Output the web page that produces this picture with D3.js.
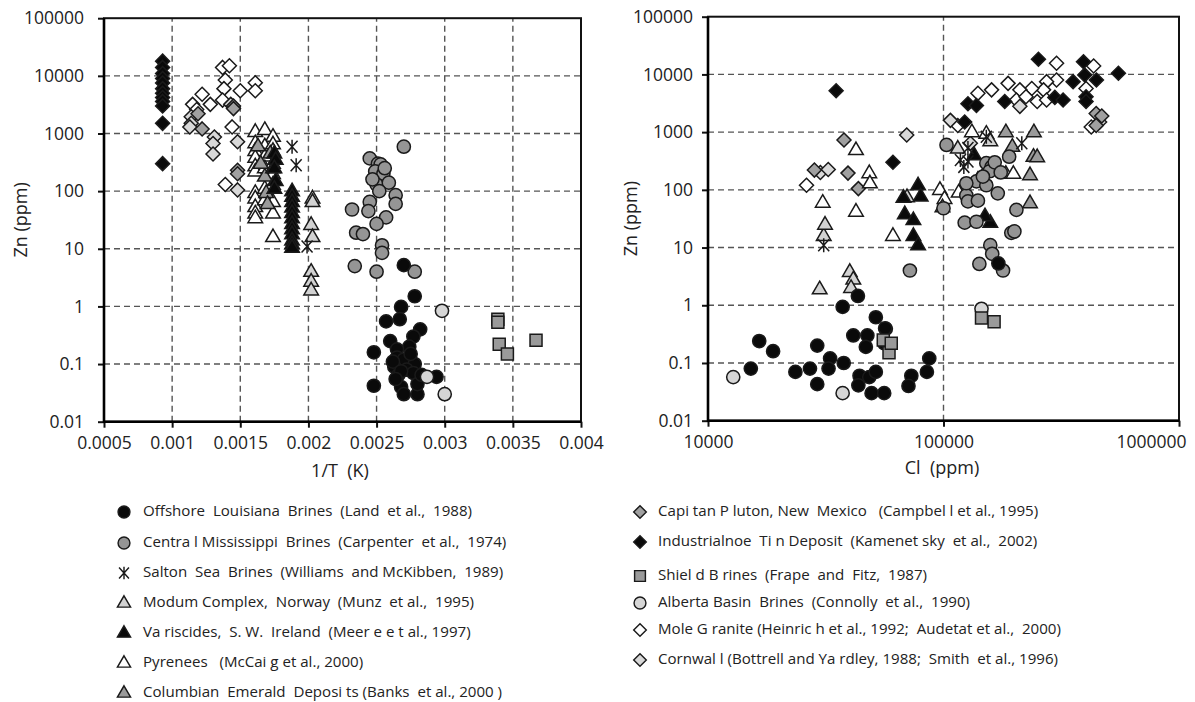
<!DOCTYPE html>
<html><head><meta charset="utf-8">
<script src="https://cdn.jsdelivr.net/npm/d3@7"></script>
<style>
body{margin:0;background:#fff;}
text{font-family:"Open Sans","Noto Sans",sans-serif;fill:#222;}
</style></head><body>
<svg id="c" width="1195" height="702"></svg>
<script>
// ---------- tick labels ----------
const invTTicks = [0.0005,0.001,0.0015,0.002,0.0025,0.003,0.0035,0.004];
const invTTickLabels = ["0.0005","0.001","0.0015","0.002","0.0025","0.003","0.0035","0.004"];
const znTicks = [0.01,0.1,1,10,100,1000,10000,100000];
const znTickLabels = ["0.01","0.1","1","10","100","1000","10000","100000"];
const clTicks = [10000,100000,1000000];
const clTickLabels = ["10000","100000","1000000"];

// ---------- series: left panel [1/T (K), Zn ppm] ----------
const louisianaT = [[0.00270,5.2],[0.00278,1.5],[0.00268,0.98],[0.00267,0.6],[0.00257,0.55],[0.00282,0.4],[0.00277,0.3],[0.00260,0.25],[0.00274,0.2],[0.00248,0.16],[0.00265,0.18],[0.00265,0.13],[0.00270,0.12],[0.00278,0.10],[0.00263,0.09],[0.00272,0.08],[0.00277,0.07],[0.00266,0.065],[0.00294,0.06],[0.00248,0.042],[0.00268,0.04],[0.00270,0.03],[0.00280,0.03],[0.00280,0.045],[0.00262,0.11],[0.00275,0.15],[0.00268,0.075],[0.00264,0.055],[0.00283,0.065]];
const mississippiT = [[0.00270,590],[0.00245,370],[0.00251,300],[0.00253,290],[0.00249,220],[0.00255,200],[0.00250,130],[0.00259,140],[0.00264,85],[0.00264,60],[0.00245,65],[0.00232,48],[0.00244,45],[0.00257,35],[0.00250,27],[0.00235,19],[0.00240,18],[0.00254,11.5],[0.00254,8.5],[0.00234,5],[0.00250,4],[0.00278,4],[0.00247,160],[0.00252,100],[0.00256,250]];
const saltonT = [[0.00188,590],[0.00191,280],[0.00199,11]];
const modumT = [[0.00203,75],[0.00203,65],[0.00202,26],[0.00203,16],[0.00202,4],[0.00202,2.7],[0.00202,1.9]];
const variscidesT = [[0.00188,100],[0.00188,80],[0.00188,65],[0.00188,52],[0.00188,42],[0.00188,34],[0.00188,27],[0.00188,22],[0.00188,18],[0.00188,14],[0.00188,12],[0.00188,10.5],[0.00175,450],[0.00176,350],[0.00175,250],[0.00176,150],[0.00175,110]];
const pyreneesT = [[0.00161,1070],[0.00168,1150],[0.00174,880],[0.00161,680],[0.00161,500],[0.00161,380],[0.00161,270],[0.00161,220],[0.00161,93],[0.00161,75],[0.00161,53],[0.00161,41],[0.00161,34],[0.00168,600],[0.00168,400],[0.00168,250],[0.00168,110],[0.00168,70],[0.00174,650],[0.00174,500],[0.00174,300],[0.00174,200],[0.00174,130],[0.00174,65],[0.00174,41],[0.00174,16]];
const columbianT = [[0.00168,180],[0.00169,93],[0.00165,300],[0.00172,450],[0.00163,600],[0.00170,60],[0.00174,250]];
const capitanT = [[0.00145,3000],[0.00119,2200],[0.00122,1200],[0.00148,230],[0.00148,200],[0.00145,2700]];
const industrialnoeT = [[0.00093,18000],[0.00093,14000],[0.00093,11000],[0.00093,9000],[0.00093,7500],[0.00093,6000],[0.00093,5000],[0.00093,4200],[0.00093,3600],[0.00093,3000],[0.00093,1500],[0.00093,300]];
const shieldT = [[0.00339,0.6],[0.00339,0.53],[0.00340,0.22],[0.00346,0.15],[0.00367,0.26]];
const albertaT = [[0.00298,0.84],[0.00287,0.06],[0.00300,0.03]];
const moleT = [[0.00137,14000],[0.00142,15000],[0.00139,8500],[0.00138,6000],[0.00150,5500],[0.00161,7600],[0.00161,5500],[0.00122,4800],[0.00115,3200],[0.00128,3200],[0.00137,3800],[0.00144,1300],[0.00139,130],[0.00118,2600]];
const cornwallT = [[0.00114,1950],[0.00114,1500],[0.00113,1300],[0.00131,870],[0.00130,670],[0.00130,440],[0.00148,720],[0.00148,105],[0.00143,3200]];

// ---------- series: right panel [Cl ppm, Zn ppm] ----------
const louisianaCl = [[43300,1.45],[37300,0.94],[51600,0.62],[56900,0.39],[16500,0.24],[18900,0.16],[29100,0.2],[41400,0.3],[47500,0.3],[46800,0.19],[33000,0.12],[37700,0.1],[15200,0.08],[23500,0.07],[27100,0.08],[32500,0.08],[29100,0.043],[44000,0.06],[48400,0.057],[51600,0.07],[43500,0.041],[49500,0.03],[56000,0.03],[56000,0.22],[87000,0.12],[85000,0.07],[73000,0.06],[71000,0.04],[56500,0.4],[171000,5.3]];
const mississippiCl = [[72000,4],[158000,11],[161000,7.8],[142000,5.2],[179000,4],[194000,18],[200000,19],[103000,600],[100000,48],[152000,290],[160000,250],[157000,210],[190000,375],[138000,140],[152000,120],[147000,170],[170000,87],[125000,80],[127000,63],[140000,65],[123000,27],[138000,28],[204000,45],[165000,300],[175000,200],[125000,130]];
const saltonCl = [[31000,11],[118000,330],[127000,530],[127000,310],[152000,830],[215000,640],[122000,250]];
const modumCl = [[40000,3.8],[41400,2.8],[29800,1.9],[40500,2.0],[31000,16],[31400,25],[70000,75],[115000,520],[158000,700],[140000,150]];
const variscidesCl = [[78000,120],[80000,77],[67600,73],[68500,38],[74500,30],[74500,16],[78000,11],[158000,27],[150000,35],[135000,400]];
const pyreneesCl = [[42500,490],[48400,195],[48700,130],[30700,60],[42500,42],[61000,16],[96600,100],[101000,70],[132000,1000],[152000,940],[184000,190],[198000,190],[116000,90],[99000,50],[150000,200]];
const columbianCl = [[184000,1000],[242000,1000],[241000,375],[250000,370],[233000,180],[233000,59],[196000,560]];
const capitanCl = [[37800,730],[28300,220],[39300,195],[43500,105],[445000,2100],[470000,1900],[445000,1300]];
const industrialnoeCl = [[35000,5200],[61000,300],[123000,1500],[253000,18300],[393000,16600],[553000,10500],[355000,7500],[398000,9800],[446000,8000],[403000,4100],[403000,3400],[297000,4000],[322000,3600],[182000,3400],[127000,3100],[138000,2900]];
const shieldCl = [[55500,0.25],[58700,0.15],[60000,0.22],[145000,0.6],[164000,0.52]];
const albertaCl = [[12800,0.057],[37300,0.03],[145000,0.87]];
const moleCl = [[26200,120],[302000,15600],[434000,14000],[302000,8000],[274000,7500],[266000,5400],[237000,5700],[211000,5400],[188000,7000],[160000,5400],[140000,4700],[204000,3600],[224000,4100],[250000,3400],[274000,3600],[403000,5700],[424000,1230],[115000,1300]];
const cornwallCl = [[69800,890],[107000,1600],[30000,200],[211000,2800],[130000,640],[460000,1500],[32400,225]];

// ---------- legend labels ----------
const legendLeftLabels = [
 "Offshore  Louisiana  Brines  (Land  et al.,  1988)",
 "Centra l Mississippi  Brines  (Carpenter  et al.,  1974)",
 "Salton  Sea  Brines  (Williams  and McKibben,  1989)",
 "Modum Complex,  Norway  (Munz  et al.,  1995)",
 "Va riscides,  S. W.  Ireland  (Meer e e t al., 1997)",
 "Pyrenees   (McCai g et al., 2000)",
 "Columbian  Emerald  Deposi ts (Banks  et al., 2000 )"];
const legendRightLabels = [
 "Capi tan P luton, New  Mexico   (Campbel l et al., 1995)",
 "Industrialnoe  Ti n Deposit  (Kamenet sky  et al.,  2002)",
 "Shiel d B rines  (Frape  and  Fitz,  1987)",
 "Alberta Basin  Brines  (Connolly  et al.,  1990)",
 "Mole G ranite (Heinric h et al., 1992;  Audetat et al.,  2000)",
 "Cornwal l (Bottrell and Ya rdley, 1988;  Smith  et al., 1996)"];

// ---------- styles ----------
const ST = {
 louisiana:{shape:"circle",fill:"#0a0a0a"},
 mississippi:{shape:"circle",fill:"#959595"},
 salton:{shape:"star",fill:"none"},
 modum:{shape:"triangle",fill:"#d2d2d2"},
 variscides:{shape:"triangle",fill:"#0a0a0a"},
 pyrenees:{shape:"triangle",fill:"#ffffff"},
 columbian:{shape:"triangle",fill:"#9a9a9a"},
 capitan:{shape:"diamond",fill:"#a0a0a0"},
 industrialnoe:{shape:"diamond",fill:"#0a0a0a"},
 shield:{shape:"square",fill:"#9a9a9a"},
 alberta:{shape:"circle",fill:"#d6d6d6"},
 mole:{shape:"diamond",fill:"#ffffff"},
 cornwall:{shape:"diamond",fill:"#d8d8d8"}
};
const leftOrder = ["mole","cornwall","capitan","industrialnoe","pyrenees","columbian","modum","variscides","salton","mississippi","louisiana","alberta","shield"];
const leftData = {louisiana:louisianaT,mississippi:mississippiT,salton:saltonT,modum:modumT,variscides:variscidesT,pyrenees:pyreneesT,columbian:columbianT,capitan:capitanT,industrialnoe:industrialnoeT,shield:shieldT,alberta:albertaT,mole:moleT,cornwall:cornwallT};
const rightData = {louisiana:louisianaCl,mississippi:mississippiCl,salton:saltonCl,modum:modumCl,variscides:variscidesCl,pyrenees:pyreneesCl,columbian:columbianCl,capitan:capitanCl,industrialnoe:industrialnoeCl,shield:shieldCl,alberta:albertaCl,mole:moleCl,cornwall:cornwallCl};
const legendLeftKeys = ["louisiana","mississippi","salton","modum","variscides","pyrenees","columbian"];
const legendRightKeys = ["capitan","industrialnoe","shield","alberta","mole","cornwall"];

function shapePath(shape){
  switch(shape){
    case "circle": return d3.symbol(d3.symbolCircle, Math.PI*6.6*6.6)();
    case "triangle": return "M0,-8L7.3,4.6L-7.3,4.6Z";
    case "diamond": return "M0,-7L7,0L0,7L-7,0Z";
    case "square": return "M-6,-6H6V6H-6Z";
    case "star": return "M0,-7V7M-5.5,-6L5.5,6M-5.5,6L5.5,-6";
  }
}

const svg = d3.select("#c");

function panel(opts){
  const {x,y,xTicks,xLabels,yPad,data,xLabel,labelX,labelY,yLabelX,gridX,lastLabelEnd} = opts;
  const g = svg.append("g");
  const [x0,x1] = x.range(), [y0,y1] = y.range();
  // grid
  g.append("g").selectAll("line").data(znTicks.slice(1,-1)).join("line")
    .attr("x1",x0).attr("x2",x1).attr("y1",d=>y(d)).attr("y2",d=>y(d))
    .attr("stroke","#555").attr("stroke-width",1.4).attr("stroke-dasharray","6,4");
  g.append("g").selectAll("line").data(gridX).join("line")
    .attr("x1",d=>x(d)).attr("x2",d=>x(d)).attr("y1",y0).attr("y2",y1)
    .attr("stroke","#555").attr("stroke-width",1.4).attr("stroke-dasharray","6,4");
  // axes
  const ax = g.append("g").attr("transform",`translate(0,${y0})`)
    .call(d3.axisBottom(x).tickValues(xTicks).tickFormat((d,i)=>xLabels[i]).tickSize(6).tickPadding(9));
  const ay = g.append("g").attr("transform",`translate(${x0},0)`)
    .call(d3.axisLeft(y).tickValues(znTicks).tickFormat((d,i)=>znTickLabels[i]).tickSize(6).tickPadding(yPad));
  [ax,ay].forEach(a=>{
    a.select(".domain").remove();
    a.selectAll(".tick line").attr("stroke","#111").attr("stroke-width",2);
    a.selectAll(".tick text").style("font-size","17.5px").attr("fill","#222")
      .style("font-family",'"Open Sans","Noto Sans",sans-serif');
  });
  if(lastLabelEnd){
    ax.selectAll(".tick").filter((d,i,n)=>i===n.length-1).select("text")
      .attr("text-anchor","end").attr("x",lastLabelEnd);
  }
  // frame
  g.append("rect").attr("x",x0).attr("y",y1).attr("width",x1-x0).attr("height",y0-y1)
    .attr("fill","none").attr("stroke","#111").attr("stroke-width",2);
  g.append("path").attr("d",`M${x0},${y1}V${y0}H${x1}`).attr("fill","none").attr("stroke","#000").attr("stroke-width",2.6);
  // points
  leftOrder.forEach(k=>{
    const st = ST[k];
    g.append("g").selectAll("path").data(data[k]).join("path")
      .attr("d",shapePath(st.shape))
      .attr("transform",d=>`translate(${x(d[0])},${y(d[1])})`)
      .attr("fill",st.fill).attr("stroke","#1a1a1a").attr("stroke-width",1.5);
  });
  // labels
  g.append("text").attr("x",labelX).attr("y",labelY).attr("text-anchor","middle")
    .attr("dominant-baseline","middle").style("font-size","18px").style("white-space","pre").text(xLabel);
  g.append("text").attr("transform",`translate(${yLabelX},${(y0+y1)/2}) rotate(-90)`)
    .attr("text-anchor","middle").attr("dominant-baseline","middle").style("font-size","18px").text("Zn (ppm)");
}

const xT = d3.scaleLinear().domain([0.0005,0.004]).range([104,581]);
const yT = d3.scaleLog().domain([0.01,100000]).range([421.7,18.2]);
panel({x:xT,y:yT,xTicks:invTTicks,xLabels:invTTickLabels,yPad:14,data:leftData,
  xLabel:"1/T  (K)",labelX:340,labelY:472,yLabelX:22,gridX:invTTicks.slice(1,-1)});

const xC = d3.scaleLog().domain([10000,1000000]).range([708,1179]);
const yC = d3.scaleLog().domain([0.01,100000]).range([420.7,16.7]);
panel({x:xC,y:yC,xTicks:clTicks,xLabels:clTickLabels,yPad:9,data:rightData,
  xLabel:"Cl  (ppm)",labelX:942,labelY:469,yLabelX:632,gridX:clTicks.slice(1,-1),lastLabelEnd:7});

// legends
function legend(keys,labels,mx,tx,rows){
  const g = svg.append("g");
  keys.forEach((k,i)=>{
    const st = ST[k];
    g.append("path").attr("d",shapePath(st.shape)).attr("transform",`translate(${mx},${rows[i]}) scale(0.9)`)
      .attr("fill",st.fill).attr("stroke","#1a1a1a").attr("stroke-width",1.6);
    g.append("text").attr("x",tx).attr("y",rows[i]).attr("dominant-baseline","middle")
      .style("font-size","15.1px").style("white-space","pre").text(labels[i]);
  });
}
legend(legendLeftKeys,legendLeftLabels,124,143,[512,543,573,603,633,663,693]);
legend(legendRightKeys,legendRightLabels,640,658,[512,542,576,603,630,660]);
</script></body></html>
